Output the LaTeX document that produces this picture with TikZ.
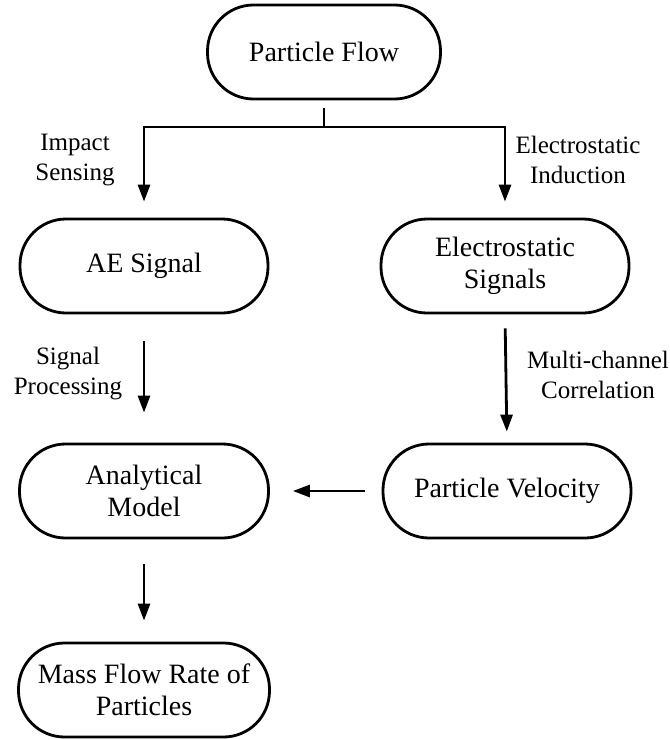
\documentclass[tikz,border=0pt]{standalone}
\usepackage{fontspec}
\setmainfont{Liberation Serif}
\usetikzlibrary{arrows.meta}
\begin{document}
\begin{tikzpicture}[x=1pt,y=-1pt,
  box/.style={draw, line width=2.8pt, rounded corners=46pt, minimum height=94pt,
    align=center, inner sep=0pt, font=\fontsize{28}{32}\selectfont},
  lbl/.style={align=center, inner sep=0pt, font=\fontsize{25}{30}\selectfont},
  conn/.style={line width=2.8pt},
  arr/.style={line width=2.8pt, -{Triangle[length=17pt,width=12pt]}}]
\useasboundingbox (0,0) rectangle (670,740);
\node[box, minimum width=233pt] (pf) at (324,52) {Particle Flow};
\node[box, minimum width=248pt] (ae) at (144,266) {AE Signal};
\node[box, minimum width=248pt] (es) at (505,266) {Electrostatic\\Signals};
\node[box, minimum width=249pt] (am) at (144,491) {Analytical\\Model};
\node[box, minimum width=248pt] (pv) at (507,491) {Particle Velocity};
\node[box, minimum width=251pt] (mf) at (144,690) {Mass Flow Rate of\\Particles};
\coordinate (j) at (324,127);
\draw[conn, shorten <=8pt] (pf.south) -- (j);
\draw[arr, shorten >=16pt] (j) -| (ae.north);
\draw[arr, shorten >=16pt] (j) -| (es.north);
\draw[arr, shorten <=27pt, shorten >=30pt] (ae.south) -- (am.north);
\draw[arr, shorten <=14pt, shorten >=11pt] (es.south) -- (pv.north);
\draw[arr, shorten <=17pt, shorten >=23pt] (pv.west) -- (am.east);
\draw[arr, shorten <=25pt, shorten >=21pt] (am.south) -- (mf.north);
\node[lbl] (l1) at (75,160) {Impact\\Sensing};
\node[lbl] (l2) at (578,160) {Electrostatic\\Induction};
\node[lbl] (l3) at (68,374) {Signal\\Processing};
\node[lbl] (l4) at (598,375) {Multi-channel\\Correlation};
\end{tikzpicture}
\end{document}
